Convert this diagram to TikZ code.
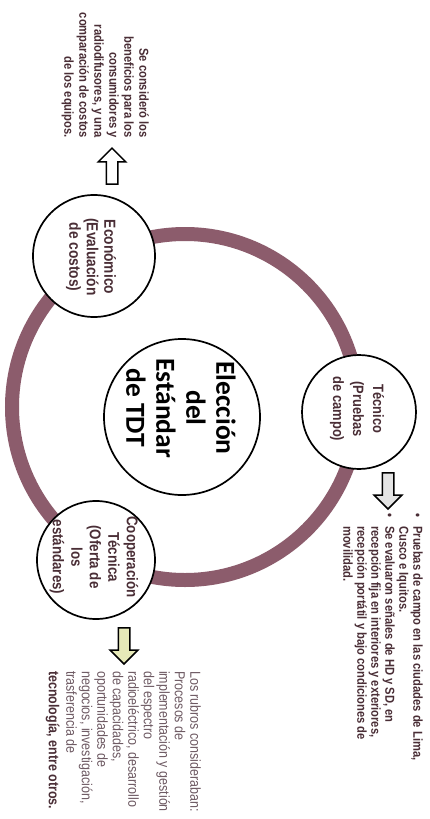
\documentclass[tikz,border=0pt]{standalone}
\usepackage{fontspec}
\setmainfont{Liberation Sans}
\newfontfamily\condf[FakeStretch=0.86]{Liberation Sans}
\newfontfamily\calib{Carlito}
\usetikzlibrary{shapes.arrows}
\definecolor{ringc}{HTML}{8C5C6C}
\definecolor{txtc}{HTML}{4A2E36}
\definecolor{coopt}{HTML}{6E5A63}
\definecolor{coopfill}{HTML}{E6E9B8}
\definecolor{tecfill}{HTML}{E4E4E4}
\tikzset{
  ringline/.style={draw=ringc, line width=14pt},
  bub/.style={circle, draw=black, line width=1.7pt, fill=white, inner sep=0pt},
  ctext/.style={rotate=-90, align=center, text=txtc, inner sep=0pt},
  sidetext/.style={rotate=-90, text=txtc, inner sep=0pt},
  barrow/.style={single arrow, draw=black, line width=1.5pt, inner xsep=0pt, inner ysep=5pt,
    minimum height=36pt, single arrow head extend=8pt, single arrow tip angle=90, anchor=tip}
}
\begin{document}
\begin{tikzpicture}[x=1pt,y=-1pt]
\useasboundingbox (0,0) rectangle (430,819);
\fill[white] (0,0) rectangle (430,819);
% ring
\draw[ringline] (185,407) circle[radius=173pt];
% circles
\node[bub, minimum size=156pt] (centre) at (182,417) {};
\node[bub, minimum size=122pt] (eco) at (94,256) {};
\node[bub, minimum size=114pt] (tec) at (359,412) {};
\node[bub, minimum size=118pt] (coop) at (96,560) {};
% circle texts
\node[ctext, text=black, font=\calib\bfseries\fontsize{27.5}{30}\selectfont] (centreT) at (181,408)
  {Elección\\del\\Estándar\\de TDT};
\node[ctext, font=\condf\bfseries\fontsize{16}{17.5}\selectfont] (ecoT) at (91,257)
  {Económico\\(Evaluación\\de costos)};
\node[ctext, font=\condf\bfseries\fontsize{15}{20}\selectfont] (tecT) at (357,409)
  {Técnico\\(Pruebas\\de campo)};
\node[ctext, font=\condf\bfseries\fontsize{15.5}{18.5}\selectfont] (coopT) at (94,557)
  {Cooperación\\Técnica\\(Oferta de\\los\\estándares)};
% block arrows
\node[barrow, rotate=90, fill=white] (arrEco) at (112,147) {};
\node[barrow, rotate=-90, fill=tecfill] (arrTec) at (388,510) {};
\node[barrow, rotate=-90, fill=coopfill] (arrCoop) at (124,665) {};
% side texts
\node[sidetext, anchor=north east, align=right, font=\condf\bfseries\fontsize{13}{15}\selectfont] (ecoD) at (149,138)
  {Se consideró los\\beneficios para los\\consumidores y\\radiodifusores, y una\\comparación de costos\\de los equipos.};
\node[sidetext, anchor=north west, align=left, font=\condf\bfseries\fontsize{13}{14}\selectfont] (tecD) at (423,513)
  {\makebox[13pt][l]{•}Pruebas de campo en las ciudades de Lima,\\
   \hspace*{13pt}Cusco e Iquitos.\\
   \makebox[13pt][l]{•}Se evaluaron señales de HD y SD, en\\
   \hspace*{13pt}recepción fija en interiores y exteriores,\\
   \hspace*{13pt}recepción portátil y bajo condiciones de\\
   \hspace*{13pt}movilidad.};
\node[sidetext, text=coopt, anchor=north west, align=left, font=\condf\fontsize{14.5}{15.5}\selectfont] (coopD) at (201,671)
  {Los rubros consideraban:\\Procesos de\\implementación y gestión\\del espectro\\radioeléctrico, desarrollo\\de capacidades,\\oportunidades de\\negocios, investigación,\\trasferencia de\\[2pt]{\color{txtc}\bfseries tecnología, entre otros.}};
\end{tikzpicture}
\end{document}
